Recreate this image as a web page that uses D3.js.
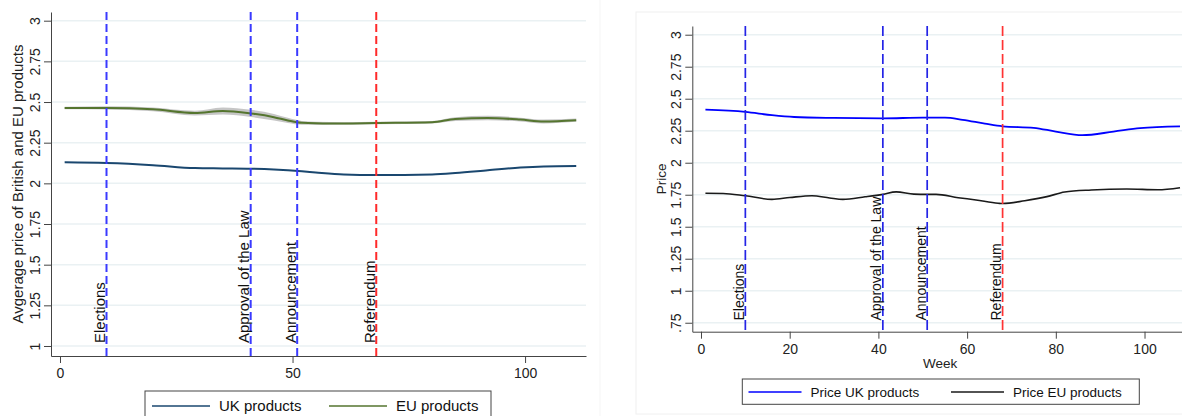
<!DOCTYPE html>
<html>
<head>
<meta charset="utf-8">
<script src="https://cdn.jsdelivr.net/npm/d3@7"></script>
<style>
  body { margin: 0; background: #fff; }
  svg { display: block; font-family: "Liberation Sans", Arial, sans-serif; }
</style>
</head>
<body>
<script>
// left panel: smoothed weekly averages (with band for EU)
const weeksL = [1, 10, 20, 29, 35, 41, 46, 49, 52, 55, 61, 68, 80, 85, 92, 99, 104, 111];
const ukAvgL = [2.129, 2.125, 2.112, 2.094, 2.092, 2.09, 2.085, 2.08, 2.074, 2.067, 2.055, 2.051, 2.055, 2.063, 2.08, 2.097, 2.104, 2.107];
const euAvgL = [2.463, 2.464, 2.455, 2.432, 2.445, 2.43, 2.407, 2.387, 2.372, 2.369, 2.368, 2.371, 2.376, 2.395, 2.402, 2.392, 2.38, 2.388];
const euLowL = [2.455, 2.454, 2.443, 2.417, 2.423, 2.408, 2.387, 2.371, 2.36, 2.359, 2.36, 2.363, 2.368, 2.383, 2.388, 2.38, 2.368, 2.378];
const euHighL = [2.471, 2.474, 2.467, 2.447, 2.467, 2.452, 2.427, 2.403, 2.384, 2.379, 2.376, 2.379, 2.384, 2.407, 2.416, 2.404, 2.392, 2.398];

// right panel: weekly prices
const ukWeeksR = [1, 10, 16, 21, 30, 41, 50, 55, 59, 64, 68, 75, 80, 86, 93, 99, 108];
const ukPriceR = [2.414, 2.397, 2.371, 2.357, 2.35, 2.347, 2.352, 2.352, 2.335, 2.305, 2.284, 2.273, 2.243, 2.215, 2.243, 2.27, 2.284];
const euWeeksR = [1, 5, 10, 16, 20, 25, 29, 32, 37, 41, 44, 48, 51, 53, 58, 62, 67, 68, 73, 78, 82, 88, 96, 103, 108];
const euPriceR = [1.761, 1.76, 1.742, 1.714, 1.728, 1.742, 1.725, 1.714, 1.734, 1.753, 1.772, 1.755, 1.753, 1.753, 1.727, 1.709, 1.683, 1.681, 1.703, 1.735, 1.771, 1.787, 1.795, 1.789, 1.805];

// events (vertical dashed lines)
const events = ["Elections", "Approval of the Law", "Announcement", "Referendum"];
const eventWeeks = [10, 41, 51, 68];

// ticks and labels
const yTicksL = [1, 1.25, 1.5, 1.75, 2, 2.25, 2.5, 2.75, 3];
const xTicksL = [0, 50, 100];
const yTicksR = [0.75, 1, 1.25, 1.5, 1.75, 2, 2.25, 2.5, 2.75, 3];
const xTicksR = [0, 20, 40, 60, 80, 100];
const legendL = ["UK products", "EU products"];
const legendR = ["Price UK products", "Price EU products"];

function drawChart() {
  let svg = d3.select("body").append("svg")
    .attr("width", 1182).attr("height", 416);

  // stata-ish number format: .75 instead of 0.75
  let fmt = (d) => String(d).replace(/^0\./, ".");

  function panel(o) {
    let g = svg.append("g");
    let x = d3.scaleLinear().domain(o.xDom).range([o.left, o.right]);
    let y = d3.scaleLinear().domain(o.yDom).range([o.bottom, o.top]);

    // grid
    g.selectAll(".grid").data(o.yTicks).join("line")
      .attr("x1", o.left).attr("x2", o.right)
      .attr("y1", (d) => y(d)).attr("y2", (d) => y(d))
      .attr("stroke", "#eaf1f3").attr("stroke-width", 1.5);

    // x axis
    let xa = g.append("g").attr("transform", "translate(0," + o.bottom + ")")
      .call(d3.axisBottom(x).tickValues(o.xTicks).tickSize(7).tickSizeOuter(0).tickPadding(5).tickFormat(d3.format("d")));
    xa.selectAll("text").attr("font-size", o.tickFont).attr("fill", "#222").attr("font-family", null);

    // y axis, rotated labels
    let ya = g.append("g").attr("transform", "translate(" + o.left + ",0)")
      .call(d3.axisLeft(y).tickValues(o.yTicks).tickSize(7).tickSizeOuter(0).tickFormat(fmt));
    ya.selectAll("text")
      .attr("x", null).attr("dy", "0.35em")
      .attr("text-anchor", "middle")
      .attr("transform", "translate(-16,0) rotate(-90)")
      .attr("font-size", o.tickFont).attr("fill", "#222").attr("font-family", null);

    g.selectAll(".domain, .tick line").attr("stroke", "#444");

    // axis titles
    g.append("text")
      .attr("transform", "translate(" + o.yTitleX + "," + (o.top + o.bottom) / 2 + ") rotate(-90)")
      .attr("text-anchor", "middle").attr("dy", "0.35em")
      .attr("font-size", o.font).attr("fill", "#222").text(o.yTitle);
    if (o.xTitle) {
      g.append("text").attr("x", (o.left + o.right) / 2 + 3).attr("y", o.xTitleY)
        .attr("text-anchor", "middle").attr("dy", "0.35em")
        .attr("font-size", o.font).attr("fill", "#222").text(o.xTitle);
    }

    // series
    o.series.forEach((s) => {
      if (s.low) {
        let band = d3.area()
          .x((d, i) => x(s.weeks[i]))
          .y0((d, i) => y(s.low[i]))
          .y1((d, i) => y(s.high[i]))
          .curve(d3.curveMonotoneX);
        g.append("path").datum(s.low).attr("d", band)
          .attr("fill", "#b8b8b8").attr("opacity", 0.8);
      }
      let line = d3.line()
        .x((d, i) => x(s.weeks[i]))
        .y((d) => y(d))
        .curve(d3.curveMonotoneX);
      g.append("path").datum(s.values).attr("d", line)
        .attr("fill", "none").attr("stroke", s.color).attr("stroke-width", s.width);
    });

    // events
    events.forEach((name, i) => {
      let ex = x(eventWeeks[i]);
      let col = i === 3 ? o.redColor : o.eventColor;
      g.append("line")
        .attr("x1", ex).attr("x2", ex).attr("y1", o.top).attr("y2", o.bottom)
        .attr("stroke", col).attr("stroke-width", o.eventWidth).attr("stroke-dasharray", o.dash);
      g.append("text")
        .attr("transform", "translate(" + (ex - 1.5) + "," + o.labelY + ") rotate(-90)")
        .attr("font-size", o.labelFont).attr("fill", "#111").text(name);
    });

    // legend
    let lg = o.legend;
    g.append("rect").attr("x", lg.x).attr("y", lg.y).attr("width", lg.w).attr("height", lg.h)
      .attr("fill", "#fff").attr("stroke", "#444").attr("stroke-width", 1);
    lg.items.forEach((it, i) => {
      g.append("line").attr("x1", it.x).attr("x2", it.x + lg.sample)
        .attr("y1", lg.cy).attr("y2", lg.cy)
        .attr("stroke", o.series[i].color).attr("stroke-width", 1.5);
      g.append("text").attr("x", it.x + lg.sample + 9).attr("y", lg.cy).attr("dy", "0.35em")
        .attr("font-size", o.font).attr("fill", "#111").text(it.label);
    });
  }

  // faint frame round the right graph
  svg.append("rect").attr("x", 636).attr("y", 12).attr("width", 560).attr("height", 402)
    .attr("fill", "none").attr("stroke", "#f0f0f0");
  svg.append("line").attr("x1", 600).attr("x2", 600).attr("y1", 0).attr("y2", 416)
    .attr("stroke", "#f5f5f5");

  panel({
    left: 51, right: 586, top: 12, bottom: 356,
    xDom: [-1.935, 113.1], yDom: [0.9385, 3.0535],
    xTicks: xTicksL, yTicks: yTicksL,
    tickFont: 14, font: 15, labelFont: 15,
    yTitle: "Avgerage price of British and EU products", yTitleX: 18,
    eventColor: "#3a3aff", redColor: "#ff2a2a", dash: "8,4", eventWidth: 2, labelY: 343,
    series: [
      { weeks: weeksL, values: ukAvgL, color: "#1a476f", width: 2 },
      { weeks: weeksL, values: euAvgL, low: euLowL, high: euHighL, color: "#55752f", width: 2 }
    ],
    legend: {
      x: 145, y: 391, w: 346, h: 32, cy: 406, sample: 58,
      items: [{ x: 152, label: legendL[0] }, { x: 329, label: legendL[1] }]
    }
  });

  panel({
    left: 692.3, right: 1182, top: 26, bottom: 331.7,
    xDom: [-1.96, 108.45], yDom: [0.68, 3.068],
    xTicks: xTicksR, yTicks: yTicksR,
    tickFont: 14, font: 13.5, labelFont: 14,
    yTitle: "Price", yTitleX: 661, xTitle: "Week", xTitleY: 363,
    eventColor: "#2424e6", redColor: "#ff3333", dash: "10,4", eventWidth: 1.7, labelY: 320.5,
    series: [
      { weeks: ukWeeksR, values: ukPriceR, color: "#0000ff", width: 1.8 },
      { weeks: euWeeksR, values: euPriceR, color: "#1a1a1a", width: 1.6 }
    ],
    legend: {
      x: 742.3, y: 379, w: 397, h: 25.3, cy: 392, sample: 53,
      items: [{ x: 748.5, label: legendR[0] }, { x: 951, label: legendR[1] }]
    }
  });
}

window.addEventListener("load", drawChart);
</script>
</body>
</html>
